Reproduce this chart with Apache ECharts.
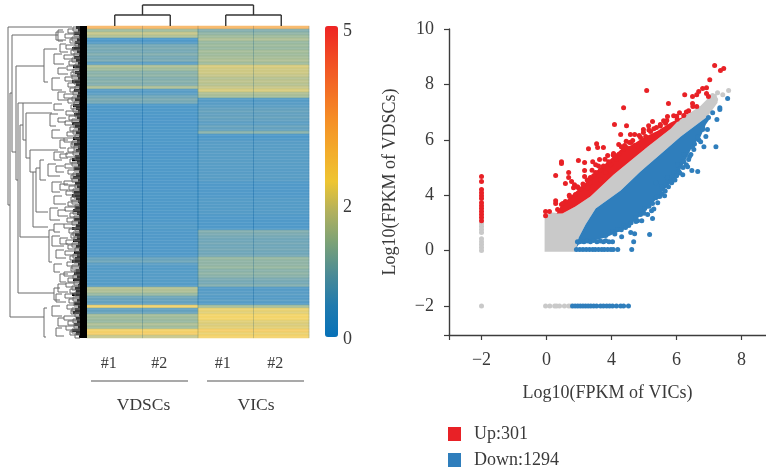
<!DOCTYPE html>
<html><head><meta charset="utf-8">
<style>html,body{margin:0;padding:0;background:#fff}#c{width:766px;height:474px}</style>
<script src="https://cdn.jsdelivr.net/npm/echarts@6/dist/echarts.min.js"></script>
</head><body><div id="c"></div>
<script>
// ---------- heat map ----------
const sampleLabels = ['#1', '#2', '#1', '#2'];
const sampleLabelPadding = [12, 22, 6, 12];
const vdscRows = [3.3,1.5,2.0,1.7,0.1,0.3,0.9,1.0,0.9,1.1,0.9,1.0,0.5,1.7,1.5,1.2,1.3,1.1,1.2,1.1,1.7,0.4,0.5,0.8,1.0,0.9,
  0.15,0.15,0.15,0.15,0.12,0.12,0.12,0.15,0.15,0.15,0.15,0.15,0.15,0.15,0.12,0.12,0.12,0.12,0.15,0.15,0.15,0.15,0.15,0.15,0.15,0.12,0.12,0.12,0.12,0.15,0.15,0.15,0.15,0.15,0.15,0.15,0.12,0.12,0.15,0.18,0.28,0.28,0.18,0.18,0.18,0.18,0.2,0.2,0.2,0.2,0.2,
  0.7,0.8,0.5,0.3,0.33,0.33,0.35,0.33,0.33,0.3,1.8,1.7,1.4,0.8,0.7,0.6,2.6,0.6,0.7,1.6,1.5,1.4,1.7,1.5,2.6,2.7,2.0];
const vicRows = [3.3,1.1,1.3,1.5,1.7,1.4,1.5,1.4,1.6,1.5,1.6,1.7,1.5,2.2,2.1,2.1,2.0,1.8,1.9,1.8,2.0,2.2,1.7,1.6,0.3,0.4,
  0.5,0.6,0.7,0.6,0.7,0.6,0.5,0.7,0.6,1.2,0.1,0.15,0.4,0.42,0.42,0.45,0.42,0.42,0.42,0.45,0.42,0.42,0.4,0.42,0.45,0.4,0.2,0.18,0.18,0.18,0.18,0.3,0.32,0.3,0.32,0.3,0.3,0.2,0.16,0.16,0.16,0.16,1.1,1.0,0.9,0.8,0.9,0.8,0.9,0.8,0.9,
  1.4,1.3,1.3,1.4,1.2,1.3,1.2,1.0,0.9,1.1,0.3,0.4,0.5,0.3,0.5,0.3,1.6,2.4,2.3,2.5,2.5,2.3,2.2,2.3,2.7,2.4,2.6];
const colorStops = ['#0771b8','#1f7aae','#4a8a96','#7aa178','#b0b05e','#eec532','#f3ab2b','#f58e26','#f36c25','#f14a24','#ee2424'];
const colorbarLabelValues = [-0.03, 2.08, 4.92];

// ---------- dendrograms ----------
// [stem distance, top leaf pos, bottom leaf pos, top arm end, bottom arm end]
const rowTreeBrackets = [
  [0,1,179,64,2],[2,67,291,4,36],[4,9,126,50,8],[8,40,154,36,10],[10,77,267,15,46],[12,99,211,15,41],[15,77,114,44,18],
  [18,87,132,44,22],[22,124,146,50,25],[25,146,201,28,40],[28,142,186,32,40],[32,134,154,36,38],[36,23,56,49,40],
  [50,4,15,55,55],[41,204,236,46,44],[46,262,274,52,52],[36,282,311,39,38],
  [48,6,14,56,58],[52,18,26,58,60],[46,28,38,54,56],[50,42,48,58,60],[44,52,64,52,54],[50,66,74,58,60],[46,78,84,54,56],
  [42,88,100,50,48],[50,92,96,58,58],[44,104,112,52,56],[52,114,122,60,58],[46,126,134,56,54],[52,128,132,60,60],
  [40,138,150,48,52],[48,140,146,56,56],[44,156,166,54,52],[52,158,164,60,60],[46,170,178,54,58],[42,182,194,50,52],
  [50,184,190,58,60],[46,198,206,56,52],[44,210,220,52,56],[52,212,218,60,60],[48,224,232,56,58],[46,238,246,54,52],
  [52,248,256,60,58],[50,258,266,58,60],[48,268,276,54,58],[44,280,290,52,54],[50,292,300,56,58],[48,302,310,54,56]
];
// [stem distance, leaf pos] of the small terminal clusters
const rowTreeTwigs = [[60,3],[57,8],[62,13],[58,19],[63,24],[56,29],[61,35],[59,40],[63,46],[57,51],[60,57],[62,62],[56,68],[60,73],
  [63,79],[58,85],[61,90],[57,95],[62,101],[59,106],[56,112],[63,117],[60,122],[58,127],[62,133],[57,138],[60,144],[63,149],[56,155],
  [61,160],[58,165],[63,171],[60,176],[57,181],[62,187],[59,192],[56,198],[61,203],[63,208],[58,214],[60,219],[57,225],[62,230],[59,236],
  [63,241],[56,246],[60,252],[58,257],[62,263],[57,268],[61,273],[59,279],[63,284],[56,290],[60,295],[58,300],[62,305],
  [65,1],[66,6],[64,11],[67,16],[65,21],[66,27],[64,32],[67,38],[65,43],[64,49],[66,54],[67,60],[65,65],[64,71],[66,76],[65,82],[67,87],
  [64,93],[66,98],[65,104],[67,109],[64,115],[66,120],[65,125],[67,130],[64,136],[66,141],[65,147],[64,152],[67,158],[65,163],[66,168],
  [64,174],[67,179],[65,184],[66,190],[64,195],[67,201],[65,206],[66,211],[64,217],[67,222],[65,228],[66,233],[64,239],[67,244],[65,249],
  [66,255],[64,260],[67,266],[65,271],[66,276],[64,282],[67,287],[65,293],[66,298],[64,303],[67,308]];
// where each leaf row's black stub starts (tree distance)
const leafStarts = [68,70,66,71,69,67,70,64,69,71,66,68,70,65,71,67,69,70,64,68,71,66,70,69,67,71,65,68,70,66,69,71,64,67,70,68,71,65,69,66,
  70,68,71,67,64,69,70,66,71,68,65,70,67,69,71,66,64,68,70,71,67,65,69,71,66,70,68,64,71,67,69,65,70,68,71,66,69,67,64,70,71,68,66,69,65,
  71,70,67,68,64,71,69,66,70,67,65,71,68,69,66,70,64,68,71];
// [left col, right col, top height, arm bottom height]
const colTreeBrackets = [[1,3,21,11],[0.5,1.5,11,0],[2.5,3.5,11,0]];
const columnSeparators = [1,2,3,4];

// ---------- volcano / scatter ----------
const xTickValues = [-2,0,2,4,6];
const xTickLabels = ['−2','0','4','6','8'];
const yTickValues = [-2,0,2,4,6,8];
const yTickLabels = ['−2','0','4','6','8','10'];
const grayArea = [[-0.06,-0.04],[-0.06,1.26],[0.18,1.37],[0.49,1.34],[0.89,1.59],[1.35,1.95],[2.06,2.74],[3.11,3.75],[3.82,4.40],[4.03,4.66],[4.74,5.23],[5.05,5.60],[5.23,5.67],[5.26,5.34],[4.95,4.84],[4.12,4.11],[3.60,3.58],[2.89,2.85],[2.28,2.17],[1.51,1.52],[1.20,0.94],[0.99,0.47],[0.92,-0.04]];
const blueArea = [[0.92,0.11],[0.99,0.47],[1.20,0.94],[1.51,1.52],[2.28,2.17],[2.89,2.85],[3.60,3.58],[4.12,4.11],[4.95,4.84],[5.05,4.80],[4.90,4.55],[4.74,4.12],[4.50,3.79],[4.25,3.21],[3.97,2.63],[3.57,2.13],[3.26,1.70],[2.89,1.26],[2.43,0.79],[1.82,0.47],[0.99,0.22]];
const redArea = [[0.31,1.34],[0.43,1.59],[0.80,2.02],[1.14,2.38],[1.51,2.85],[1.88,3.21],[2.28,3.65],[2.65,3.83],[2.98,4.08],[3.42,4.33],[3.82,4.62],[4.34,4.91],[4.74,5.23],[5.05,5.60],[4.74,5.23],[4.03,4.66],[3.82,4.40],[3.11,3.75],[2.06,2.74],[1.35,1.95],[0.89,1.59],[0.49,1.34]];
const upPoints = [[5.17,6.68],[5.45,6.57],[5.35,6.50],[5.02,6.17],[4.92,5.88],[4.80,5.85],[4.68,5.74],[4.62,5.63],[4.25,5.63],[4.49,5.56],[4.92,5.67],[4.98,5.56],[3.08,5.78],[3.75,5.31],[2.37,5.16],[4.49,5.31],[4.62,5.20],[2.09,4.55],[2.46,4.51],[2.28,4.19],[2.98,4.37],[3.14,4.51],[3.26,4.66],[3.60,4.69],[3.91,4.87],[4.09,4.98],[4.37,5.05],[3.72,4.84],[2.58,4.19],[2.71,4.19],[2.65,3.97],[2.98,4.26],[2.22,3.83],[2.40,3.79],[2.80,3.75],
 [1.54,3.86],[1.57,3.72],[1.29,3.68],[1.75,3.72],[0.46,3.21],[0.46,3.14],[0.98,3.25],[1.17,3.18],[0.28,2.71],[0.68,2.82],[0.68,2.64],[0.58,2.42],[0.77,2.49],[0.86,2.38],[1.17,2.89],[1.17,2.67],[1.42,3.21],[1.51,3.10],[1.63,3.29],[1.88,3.43],[2.06,3.50],[2.37,3.65],[0.83,2.27],[0.98,2.27],[1.14,2.31],[0.71,1.95],[0.28,1.80],[0.28,1.70],[0.46,1.66],[-0.03,1.41],[0.09,1.41],[-0.03,1.26],[0.34,1.48],[0.58,1.77],[1.26,2.27],[1.35,2.45],[1.51,2.82],[1.66,2.56],[1.82,2.82],[1.97,3.10],[2.15,3.29],
 [0.89,2.02],[1.05,2.20],[1.35,2.64],[1.66,2.92],[1.91,3.21],[2.22,3.47],[2.46,3.72],[2.71,3.79],[2.89,4.08],[3.20,4.30],[3.38,4.44],[3.50,4.50],[3.05,4.12],[3.66,4.60],[4.02,4.74],[4.22,4.88],[2.60,3.90],[2.10,3.38],[1.45,2.70],[1.12,2.40],
 [0.50,1.70],[0.70,2.00],[0.95,2.30],[1.25,2.55],[1.40,2.90],[1.60,3.05],[1.80,3.30],[2.05,3.45],[2.30,3.75],[2.55,3.90],[2.85,4.15],[3.15,4.35],[3.50,4.55],[3.70,4.70],[4.00,4.85],[4.30,5.00],[4.50,5.20],[1.75,3.05],[2.45,3.95],[3.30,4.40],
 [-2,2.67],[-2,2.49],[-2,2.20],[-2,2.09],[-2,1.98],[-2,1.88],[-2,1.73],[-2,1.62],[-2,1.52],[-2,1.41],[-2,1.30],[-2,1.19],[-2,1.08]];
const downPoints = [[3.17,0.58],[2.68,0.32],[2.62,0.04],[2.19,0.04],[2.31,0.5],[2.59,0.65],[2.71,0.61],[2.19,0.76],[2.37,0.90],[2.53,0.90],[2.80,1.08],[2.93,1.08],[3.26,1.16],[3.11,1.30],[3.23,1.44],[3.02,1.52],[3.26,1.70],[3.42,1.73],[3.36,1.91],[3.48,1.95],[3.63,1.98],[3.67,2.38],[3.54,2.31],[3.85,2.45],[3.91,2.56],[3.72,2.63],[3.36,2.45],[3.91,2.82],[4.07,2.85],[4.19,2.74],[4.03,3.10],[4.22,3.21],
 [4.65,2.85],[4.47,2.89],[4.34,3.03],[4.84,3.75],[5.21,3.75],[4.90,4.12],[5.24,4.73],[5.11,4.98],[5.33,5.16],[5.33,5.09],[5.57,5.49],[4.80,4.37],[4.68,4.0],[4.53,3.65],[4.44,3.47],[4.37,3.29],[4.98,4.80],[4.95,4.37],[4.49,3.75],[4.74,3.93],[4.22,3.47],[2.89,1.30],[2.43,0.83],[2.03,0.69],[1.82,0.54],[2.74,1.19],
 [3.00,1.35],[3.15,1.60],[3.40,1.95],[3.55,2.05],[3.75,2.30],[3.95,2.55],[4.10,2.80],[4.30,3.10],[4.40,3.40],[4.55,3.85],[4.65,4.10],[4.80,4.45],[2.60,1.00],[2.30,0.75],[2.10,0.60],[2.75,1.05],[3.30,1.50],[3.65,2.15],[4.00,2.70],[4.20,3.00],
 [0.95,0.32],[1.05,0.36],[1.15,0.32],[1.25,0.34],[1.35,0.32],[1.45,0.36],[1.55,0.32],[1.65,0.34],[1.75,0.32],[1.82,0.35],[1.92,0.32],[2.03,0.32],
 [0.92,0.04],[1.02,0.04],[1.12,0.04],[1.22,0.04],[1.32,0.04],[1.42,0.04],[1.5,0.04],[1.6,0.04],[1.7,0.04],[1.78,0.04],[1.88,0.04],[1.98,0.04],[2.05,0.04],
 [0.80,-2],[0.88,-2],[0.96,-2],[1.04,-2],[1.12,-2],[1.20,-2],[1.28,-2],[1.36,-2],[1.45,-2],[1.54,-2],[1.66,-2],[1.75,-2],[1.85,-2],[1.94,-2],[2.03,-2],[2.15,-2],[2.28,-2],[2.37,-2],[2.52,-2]];
const grayPoints = [[5.60,5.78],[5.42,5.63],[5.26,5.70],[5.11,5.60],[5.20,5.45],
 [-2,0.97],[-2,0.87],[-2,0.76],[-2,0.65],[-2,0.43],[-2,0.32],[-2,0.22],[-2,0.11],[-2,0],[-2,-2],
 [-0.03,-2],[0.10,-2],[0.25,-2],[0.31,-2],[0.40,-2],[0.55,-2],[0.68,-2],[0.75,-2]];
const legendNames = ['Up:301','Down:1294'];

const serif = '"Liberation Serif", serif';
const textColor = '#3a3a3a';
const heatData = [];
[vdscRows, vdscRows, vicRows, vicRows].forEach((col, c) => col.forEach((v, r) => heatData.push([c, r, v])));

function segmentSeries(segments, xi, yi, stroke, lw, z) {
  return { type: 'custom', xAxisIndex: xi, yAxisIndex: yi, silent: true, z: z || 3, clip: false,
    data: segments,
    renderItem: (p, api) => {
      const a = api.coord([api.value(0), api.value(1)]), b = api.coord([api.value(2), api.value(3)]);
      return { type: 'line', shape: { x1: a[0], y1: a[1], x2: b[0], y2: b[1] }, style: { stroke, lineWidth: lw } };
    } };
}
function areaSeries(points, fill, z) {
  return { type: 'custom', xAxisIndex: 4, yAxisIndex: 4, silent: true, z, data: [0],
    renderItem: (p, api) => ({ type: 'polygon', shape: { points: points.map(q => api.coord(q)) }, style: { fill } }) };
}
const treeSegs = [];
rowTreeBrackets.forEach(([d, t, b, te, be]) => { treeSegs.push([d, t, d, b], [d, t, te, t], [d, b, be, b]); });
rowTreeTwigs.forEach(([d, p]) => { treeSegs.push([d, p, d, p + 4], [d, p, 72, p], [d, p + 4, 72, p + 4]); });
const leafSegs = leafStarts.map((s, i) => [s, i * 3 + 1.5, 79, i * 3 + 1.5]);
const colSegs = [];
colTreeBrackets.forEach(([l, r, t, b]) => { colSegs.push([l, t, r, t], [l, t, l, b], [r, t, r, b]); });
const sepSegs = columnSeparators.map(c => [c, 0, c, 1]);

const chart = echarts.init(document.getElementById('c'));
chart.setOption({
  animation: false,
  backgroundColor: '#fff',
  textStyle: { fontFamily: serif, color: textColor },
  grid: [
    { left: 87, top: 26, width: 222, height: 312 },
    { left: 8, top: 26, width: 79, height: 312 },
    { left: 87, top: 5, width: 222, height: 21 },
    { left: 325, top: 26, width: 13, height: 314.1 },
    { left: 449, top: 29, width: 317, height: 306 },
    { left: 87, top: 26, width: 222, height: 312 }
  ],
  xAxis: [
    { gridIndex: 0, type: 'category', data: sampleLabels.map((s, i) => ({ value: s, textStyle: { padding: [0, sampleLabelPadding[i], 0, 0] } })),
      axisLine: { show: false }, axisTick: { show: false }, splitLine: { show: false },
      axisLabel: { fontFamily: serif, fontSize: 16, color: textColor, margin: 18, interval: 0 } },
    { gridIndex: 1, type: 'value', min: 0, max: 79, show: false },
    { gridIndex: 2, type: 'value', min: 0, max: 4, show: false },
    { gridIndex: 3, type: 'value', min: 0, max: 1, show: false },
    { gridIndex: 4, type: 'value', min: -3, max: 6.75, splitLine: { show: false },
      axisLine: { onZero: false, lineStyle: { color: '#3c3c3c', width: 1.4 } },
      axisTick: { length: 5, lineStyle: { color: '#3c3c3c', width: 1.2 }, customValues: [-3].concat(xTickValues) },
      axisLabel: { customValues: xTickValues, fontFamily: serif, fontSize: 18, color: textColor, margin: 16,
        formatter: v => xTickLabels[xTickValues.indexOf(v)] },
      name: 'Log10(FPKM of VICs)', nameLocation: 'middle', nameGap: 49, nameTextStyle: { fontFamily: serif, fontSize: 18, color: textColor } },
    { gridIndex: 5, type: 'value', min: 0, max: 4, show: false }
  ],
  yAxis: [
    { gridIndex: 0, type: 'category', inverse: true, data: vdscRows.map((_, i) => i), show: false },
    { gridIndex: 1, type: 'value', inverse: true, min: 0, max: 312, show: false },
    { gridIndex: 2, type: 'value', min: 0, max: 21, show: false },
    { gridIndex: 3, type: 'value', position: 'right', min: -0.05, max: 5, splitLine: { show: false }, axisLine: { show: false }, axisTick: { show: false },
      axisLabel: { customValues: colorbarLabelValues, fontFamily: serif, fontSize: 18, color: textColor, margin: 5, formatter: v => String(Math.abs(Math.round(v))) } },
    { gridIndex: 4, type: 'value', min: -3.05, max: 8, splitLine: { show: false },
      axisLine: { onZero: false, lineStyle: { color: '#3c3c3c', width: 1.4 } },
      axisTick: { length: 5, lineStyle: { color: '#3c3c3c', width: 1.2 }, customValues: [-3.05].concat(yTickValues) },
      axisLabel: { customValues: yTickValues, fontFamily: serif, fontSize: 18, color: textColor, margin: 15,
        formatter: v => yTickLabels[yTickValues.indexOf(v)] },
      name: 'Log10(FPKM of VDSCs)', nameLocation: 'middle', nameGap: 50, nameTextStyle: { fontFamily: serif, fontSize: 18, color: textColor } },
    { gridIndex: 5, type: 'value', min: 0, max: 1, show: false }
  ],
  visualMap: {
    type: 'continuous', seriesIndex: 0, min: 0, max: 5, left: 325, top: 26, itemWidth: 13, itemHeight: 311, padding: 0,
    calculable: false, text: null, textGap: 0, showLabel: false, inRange: { color: colorStops }, silent: true
  },
  legend: {
    orient: 'vertical', left: 448, top: 425, padding: 0, itemWidth: 13, itemHeight: 14, itemGap: 8,
    data: legendNames.map(n => ({ name: n, icon: 'rect' })), selectedMode: false,
    textStyle: { fontFamily: serif, fontSize: 18, color: textColor, padding: [0, 0, 0, 8] }
  },
  graphic: [
    { type: 'line', shape: { x1: 91, y1: 381, x2: 188, y2: 381 }, style: { stroke: '#555', lineWidth: 1.2 } },
    { type: 'line', shape: { x1: 207, y1: 381, x2: 304, y2: 381 }, style: { stroke: '#555', lineWidth: 1.2 } },
    { type: 'text', x: 143.5, y: 405, style: { text: 'VDSCs', font: '17.5px ' + serif, fill: textColor, align: 'center', verticalAlign: 'middle' } },
    { type: 'text', x: 256, y: 405, style: { text: 'VICs', font: '17.5px ' + serif, fill: textColor, align: 'center', verticalAlign: 'middle' } }
  ],
  series: [
    { type: 'heatmap', xAxisIndex: 0, yAxisIndex: 0, data: heatData, itemStyle: { opacity: 0.67 }, silent: true, progressive: 0 },
    segmentSeries(leafSegs, 1, 1, '#000', 3, 3),
    segmentSeries(treeSegs, 1, 1, '#6a6a6a', 1, 4),
    segmentSeries(colSegs, 2, 2, '#333', 1.4, 3),
    segmentSeries(sepSegs, 5, 5, 'rgba(30,100,160,0.22)', 1, 5),
    { type: 'scatter', xAxisIndex: 3, yAxisIndex: 3, data: [], silent: true },
    areaSeries(grayArea, '#c9c9c9', 2),
    areaSeries(blueArea, '#2f7ebc', 3),
    areaSeries(redArea, '#e82126', 3),
    { type: 'scatter', name: 'Gray', xAxisIndex: 4, yAxisIndex: 4, data: grayPoints, symbolSize: 5, z: 4, silent: true, itemStyle: { color: '#c9c9c9', opacity: 1 } },
    { type: 'scatter', name: legendNames[1], xAxisIndex: 4, yAxisIndex: 4, data: downPoints, symbolSize: 5, z: 4, silent: true, itemStyle: { color: '#2f7ebc', opacity: 1 } },
    { type: 'scatter', name: legendNames[0], xAxisIndex: 4, yAxisIndex: 4, data: upPoints, symbolSize: 5, z: 4, silent: true, itemStyle: { color: '#e82126', opacity: 1 } }
  ]
});
</script></body></html>
